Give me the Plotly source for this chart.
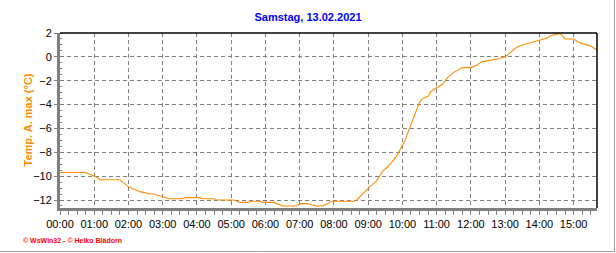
import plotly.graph_objects as go

# ---- data ----
times = ["00:00","00:45","00:50","00:55","01:00","01:05","01:10","01:45","01:50","01:55",
         "02:00","02:05","02:10","02:15","02:20","02:30","02:35","02:45","02:50","03:00",
         "03:05","03:10","03:35","03:40","04:05","04:10","04:30","04:35","05:05","05:10",
         "05:15","05:30","05:35","05:50","05:55","06:15","06:20","06:25","06:30","06:55",
         "07:00","07:15","07:20","07:30","07:40","07:45","07:50","07:55","08:35","08:40",
         "08:50","09:00","09:05","09:15","09:25","09:30","09:40","09:50","10:00","10:05",
         "10:10","10:15","10:20","10:25","10:30","10:35","10:45","10:50","11:00","11:10",
         "11:15","11:20","11:30","11:45","12:00","12:10","12:20","12:35","12:45","13:00",
         "13:10","13:20","13:30","13:45","14:00","14:15","14:20","14:35","14:40","14:45",
         "15:00","15:10","15:30","15:40"]
temps = [-9.7,-9.7,-9.8,-9.9,-10.0,-10.1,-10.3,-10.3,-10.5,-10.7,
         -10.9,-11.0,-11.1,-11.2,-11.3,-11.4,-11.5,-11.5,-11.6,-11.7,
         -11.8,-11.9,-11.9,-11.8,-11.8,-11.9,-11.9,-12.0,-12.0,-12.1,
         -12.2,-12.2,-12.1,-12.1,-12.2,-12.2,-12.3,-12.4,-12.5,-12.5,
         -12.3,-12.3,-12.4,-12.5,-12.5,-12.4,-12.3,-12.1,-12.1,-12.0,
         -11.5,-11.0,-10.8,-10.4,-9.6,-9.4,-8.9,-8.3,-7.5,-7.0,
         -6.3,-5.7,-5.0,-4.4,-3.8,-3.5,-3.3,-2.9,-2.6,-2.3,
         -2.0,-1.7,-1.3,-0.9,-0.9,-0.7,-0.4,-0.3,-0.2,0.0,
         0.4,0.8,1.0,1.2,1.4,1.6,1.8,1.95,1.8,1.5,
         1.5,1.2,0.9,0.6]
y_ticks = [2, 0, -2, -4, -6, -8, -10, -12]
title_text = "Samstag, 13.02.2021"
y_title = "Temp. A. max (°C)"
footer = "© WsWin32 - © Heiko Blädorn"
date = "2021-02-13"

x = [f"{date} {t}" for t in times]

ORANGE = "#FF8C00"
GRAY = "#808080"
FONT = "Liberation Sans, Arial, sans-serif"

fig = go.Figure()
fig.add_trace(go.Scatter(x=x, y=temps, mode="lines",
                         line=dict(color=ORANGE, width=1.1), hoverinfo="skip"))

W, H = 616, 253
L, R, T, B = 60, 19, 33, 45
pw, ph = W - L - R, H - T - B

fig.update_layout(
    width=W, height=H,
    margin=dict(l=L, r=R, t=T, b=B),
    paper_bgcolor="white", plot_bgcolor="white",
    showlegend=False,
    font=dict(family=FONT, size=11, color="black"),
    title=dict(text=title_text, x=0.5, xanchor="center", y=1 - 17 / H, yanchor="middle",
               font=dict(family=FONT, size=11, color="#0000FF", weight="bold")),
    xaxis=dict(
        type="date",
        range=[f"{date} 00:00", f"{date} 15:41"],
        dtick=3600000, tick0=f"{date} 00:00", tickformat="%H:%M",
        showgrid=True, gridcolor=GRAY, griddash="4px,3px", gridwidth=1,
        showline=True, linecolor=GRAY, linewidth=3,
        ticks="outside", ticklen=4, tickcolor=GRAY, tickwidth=1,
        minor=dict(dtick=900000, ticks="outside", ticklen=4, tickcolor=GRAY, showgrid=False),
        zeroline=False, fixedrange=True,
        tickfont=dict(size=11),
    ),
    yaxis=dict(
        range=[-12.67, 2.0],
        tickvals=y_ticks,
        showgrid=True, gridcolor=GRAY, griddash="4px,3px", gridwidth=1,
        showline=True, linecolor=GRAY, linewidth=3,
        ticks="outside", ticklen=3, tickcolor=GRAY, tickwidth=1,
        minor=dict(dtick=0.5, tick0=0, ticks="inside", ticklen=2, tickcolor=GRAY, showgrid=False),
        zeroline=False, fixedrange=True,
        tickfont=dict(size=11),
    ),
    shapes=[
        # top and right plot borders
        dict(type="line", xref="paper", yref="paper", x0=0, x1=1, y0=1, y1=1,
             line=dict(color="black", width=1.5)),
        dict(type="line", xref="paper", yref="paper", x0=1, x1=1, y0=0, y1=1,
             line=dict(color="black", width=1.5)),
        # outer frame right/bottom
        dict(type="line", xref="paper", yref="paper",
             x0=(614.5 - L) / pw, x1=(614.5 - L) / pw, y0=(T + ph - 251.5) / ph, y1=(T + ph) / ph + T / ph,
             line=dict(color="#A0A0A0", width=1)),
        dict(type="line", xref="paper", yref="paper",
             x0=-L / pw, x1=(614.5 - L) / pw, y0=(T + ph - 251.5) / ph, y1=(T + ph - 251.5) / ph,
             line=dict(color="#A0A0A0", width=1)),
    ],
    annotations=[
        dict(text=y_title, xref="paper", yref="paper", x=(27 - L) / pw, y=0.5,
             xanchor="center", yanchor="middle", textangle=-90, showarrow=False,
             font=dict(family=FONT, size=11, color=ORANGE, weight="bold")),
        dict(text=footer, xref="paper", yref="paper", x=(21 - L) / pw, y=(T + ph - 240) / ph,
             xanchor="left", yanchor="middle", showarrow=False,
             font=dict(family=FONT, size=7, color="#FF0000", weight="bold")),
    ],
)

fig.write_html("out.html")
